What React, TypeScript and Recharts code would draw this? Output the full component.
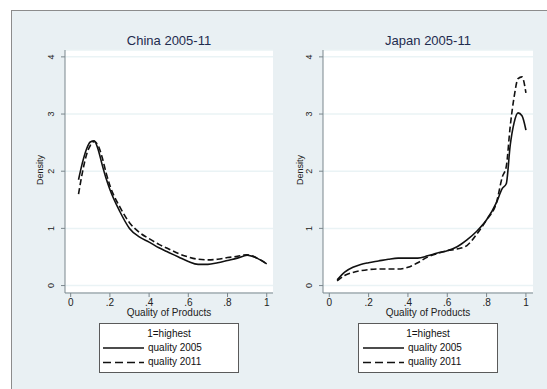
import React from 'react';
import { LineChart, Line, XAxis, YAxis, CartesianGrid } from 'recharts';

const chinaX = [0.04, 0.06, 0.08, 0.1, 0.12, 0.14, 0.16, 0.18, 0.2, 0.25, 0.3, 0.35, 0.4, 0.45, 0.5, 0.55, 0.6, 0.65, 0.7, 0.75, 0.8, 0.85, 0.9, 0.95, 1.0];
const china2005 = [1.85, 2.15, 2.38, 2.51, 2.53, 2.38, 2.12, 1.88, 1.68, 1.3, 1.0, 0.85, 0.76, 0.66, 0.58, 0.5, 0.42, 0.37, 0.37, 0.4, 0.44, 0.48, 0.53, 0.48, 0.38];
const china2011 = [1.6, 1.98, 2.28, 2.45, 2.52, 2.45, 2.25, 1.98, 1.75, 1.38, 1.1, 0.93, 0.82, 0.72, 0.64, 0.56, 0.5, 0.46, 0.45, 0.46, 0.49, 0.51, 0.54, 0.48, 0.38];

const japanX = [0.04, 0.08, 0.12, 0.16, 0.2, 0.25, 0.3, 0.35, 0.4, 0.45, 0.5, 0.55, 0.6, 0.65, 0.7, 0.75, 0.8, 0.85, 0.88, 0.9, 0.92, 0.94, 0.96, 0.98, 1.0];
const japan2005 = [0.1, 0.24, 0.32, 0.37, 0.4, 0.43, 0.46, 0.48, 0.48, 0.48, 0.52, 0.57, 0.61, 0.68, 0.8, 0.95, 1.15, 1.45, 1.7, 1.78, 2.45, 2.85, 3.02, 2.97, 2.72];
const japan2011 = [0.08, 0.18, 0.23, 0.26, 0.28, 0.29, 0.29, 0.29, 0.32, 0.4, 0.5, 0.56, 0.61, 0.64, 0.7, 0.9, 1.15, 1.45, 1.9, 2.08, 2.78, 3.3, 3.62, 3.65, 3.37];

const xTicks = [0, 0.2, 0.4, 0.6, 0.8, 1];
const xTickLabels = ['0', '.2', '.4', '.6', '.8', '1'];
const yTicks = [0, 1, 2, 3, 4];

const panelTitles = ['China 2005-11', 'Japan 2005-11'];
const xAxisTitle = 'Quality of Products';
const yAxisTitle = 'Density';
const legendTitle = '1=highest';
const seriesNames = ['quality 2005', 'quality 2011'];

const build = (xs: number[], a: number[], b: number[]) =>
  xs.map((x, i) => ({ x, q2005: a[i], q2011: b[i] }));

const AXIS = '#7b878d';
const FONT = 'Liberation Sans, Arial, sans-serif';

const YTick = (props: any) => {
  const { x, y, payload } = props;
  const bx = x - 5;
  return (
    <text x={bx} y={y} transform={`rotate(-90, ${bx}, ${y})`} textAnchor="middle" fontSize={9} fill="#222" fontFamily={FONT}>
      {payload.value}
    </text>
  );
};

const XTick = (props: any) => {
  const { x, y, payload } = props;
  const idx = xTicks.indexOf(payload.value);
  return (
    <text x={x} y={y + 7} textAnchor="middle" fontSize={10} fill="#222" fontFamily={FONT}>
      {idx >= 0 ? xTickLabels[idx] : ''}
    </text>
  );
};

type PanelProps = {
  left: number;
  width: number;
  margin: { top: number; right: number; bottom: number; left: number };
  domain: [number, number];
  data: any[];
};

const AX_W = 20;
const AX_H = 20;

const Panel = ({ left, width, margin, domain, data }: PanelProps) => (
  <div style={{ position: 'absolute', left, top: 0 }}>
    <LineChart
      width={width}
      height={389}
      data={data}
      margin={{ top: margin.top, right: margin.right, left: margin.left - AX_W, bottom: margin.bottom - AX_H }}
    >
      <CartesianGrid vertical={false} horizontal={true} stroke="#eaf3f5" strokeWidth={1.5} fill="#ffffff" />
      <XAxis
        type="number"
        dataKey="x"
        domain={domain}
        ticks={xTicks}
        allowDataOverflow
        height={AX_H}
        stroke={AXIS}
        tickLine={{ stroke: AXIS }}
        tickSize={4}
        tick={<XTick />}
        interval={0}
      />
      <YAxis
        type="number"
        domain={[-0.13, 4.12]}
        ticks={yTicks}
        allowDataOverflow
        width={AX_W}
        stroke={AXIS}
        tickLine={{ stroke: AXIS }}
        tickSize={4}
        tick={<YTick />}
        interval={0}
      />
      <Line type="monotone" dataKey="q2005" stroke="#111" strokeWidth={1.6} dot={false} isAnimationActive={false} />
      <Line type="monotone" dataKey="q2011" stroke="#111" strokeWidth={1.6} strokeDasharray="6 3" dot={false} isAnimationActive={false} />
    </LineChart>
  </div>
);

const Legend = ({ left, lineLeft, textLeft }: { left: number; lineLeft: number; textLeft: number }) => (
  <div
    style={{
      position: 'absolute',
      left,
      top: 323,
      width: 138,
      height: 48,
      background: '#fff',
      border: '1px solid #5a5a5a',
      fontFamily: FONT,
      fontSize: 10,
      color: '#111',
    }}
  >
    <div style={{ position: 'absolute', top: 4, width: '100%', textAlign: 'center' }}>{legendTitle}</div>
    <svg width={138} height={48} style={{ position: 'absolute', left: 0, top: 0 }}>
      <line x1={lineLeft} x2={lineLeft + 41} y1={24} y2={24} stroke="#111" strokeWidth={1.6} />
      <line x1={lineLeft} x2={lineLeft + 41} y1={38.5} y2={38.5} stroke="#111" strokeWidth={1.6} strokeDasharray="8 4" />
    </svg>
    <div style={{ position: 'absolute', left: textLeft, top: 18 }}>{seriesNames[0]}</div>
    <div style={{ position: 'absolute', left: textLeft, top: 32 }}>{seriesNames[1]}</div>
  </div>
);

export default function App() {
  const chinaData = build(chinaX, china2005, china2011);
  const japanData = build(japanX, japan2005, japan2011);
  return (
    <div style={{ position: 'absolute', left: 0, top: 0, width: 547, height: 389, background: '#fff', overflow: 'hidden' }}>
      <div
        style={{
          position: 'absolute',
          left: 11,
          top: 10,
          width: 560,
          height: 400,
          background: '#e9f0f3',
          border: '1px solid #8c8c8c',
        }}
      />
      <Panel left={0} width={280} margin={{ top: 50, right: 7, bottom: 96, left: 65 }} domain={[-0.029, 1.032]} data={chinaData} />
      <Panel left={280} width={267} margin={{ top: 50, right: 14, bottom: 96, left: 43 }} domain={[-0.032, 1.036]} data={japanData} />

      {[169, 428].map((cx, i) => (
        <React.Fragment key={i}>
          <div style={{ position: 'absolute', left: cx - 80, width: 160, top: 33, textAlign: 'center', fontFamily: FONT, fontSize: 13, color: '#1e2b4e' }}>
            {panelTitles[i]}
          </div>
          <div style={{ position: 'absolute', left: cx - 80, width: 160, top: 308, lineHeight: '10px', textAlign: 'center', fontFamily: FONT, fontSize: 10, color: '#222' }}>
            {xAxisTitle}
          </div>
        </React.Fragment>
      ))}
      {[40, 300].map((x, i) => (
        <div
          key={i}
          style={{
            position: 'absolute',
            left: x - 30,
            top: 165,
            width: 60,
            textAlign: 'center',
            fontFamily: FONT,
            fontSize: 9,
            color: '#222',
            transform: 'rotate(-90deg)',
          }}
        >
          {yAxisTitle}
        </div>
      ))}
      <Legend left={99} lineLeft={3} textLeft={48} />
      <Legend left={358} lineLeft={4} textLeft={49} />
    </div>
  );
}
